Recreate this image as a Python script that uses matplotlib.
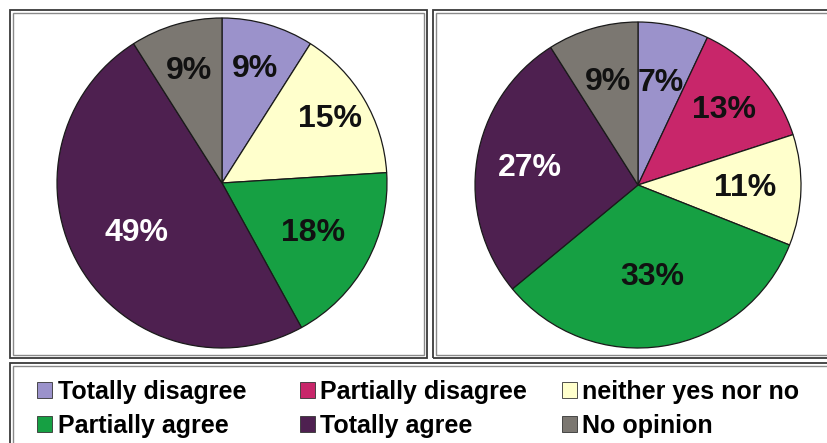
import matplotlib.pyplot as plt
from matplotlib.patches import Patch, Rectangle

plt.rcParams['font.family'] = ['Liberation Sans', 'DejaVu Sans']

categories = ['Totally disagree', 'Partially disagree', 'neither yes nor no',
              'Partially agree', 'Totally agree', 'No opinion']
colors = ['#9B92CB', '#C8266A', '#FFFFCC', '#16A043', '#4E2050', '#7B7771']
left_values = [9, 0, 15, 18, 49, 9]
right_values = [7, 13, 11, 33, 27, 9]

# how far out each percent label sits (fraction of radius)
left_label_r = [0.72, 0.7, 0.76, 0.63, 0.60, 0.71]
right_label_r = [0.64, 0.70, 0.66, 0.57, 0.67, 0.66]

W, H = 827, 443
fig = plt.figure(figsize=(W / 100, H / 100), dpi=100)


def box(x0, y0, x1, y1):
    # pixel coords (top-left origin) -> figure fraction, double line border
    for off, col, lw in [(0, '#3a3a3a', 1.3), (3, '#8a8a8a', 1.0)]:
        fig.patches.append(Rectangle(((x0 + off) / W, 1 - (y1 - off) / H),
                                     (x1 - x0 - 2 * off) / W, (y1 - y0 - 2 * off) / H,
                                     transform=fig.transFigure, fill=False,
                                     edgecolor=col, lw=lw))


box(10, 10, 427, 358)
box(433, 10, 840, 358)
box(10, 363, 840, 460)


def draw_pie(values, label_r, cx, cy, r):
    ax = fig.add_axes([(cx - r) / W, 1 - (cy + r) / H, 2 * r / W, 2 * r / H])
    keep = [i for i, v in enumerate(values) if v > 0]
    vals = [values[i] for i in keep]
    cols = [colors[i] for i in keep]
    wedges, texts, autotexts = ax.pie(
        vals, colors=cols, startangle=90, counterclock=False,
        autopct=lambda p: f'{p:.0f}%', pctdistance=1.0,
        wedgeprops=dict(edgecolor='#1a1a1a', linewidth=0.9),
        textprops=dict(fontsize=23, fontweight='bold', color='#111111'))
    for i, t in zip(keep, autotexts):
        x, y = t.get_position()
        t.set_position((x * label_r[i], y * label_r[i]))
        if categories[i] == 'Totally agree':
            t.set_color('white')
    ax.set_xlim(-1, 1)
    ax.set_ylim(-1, 1)
    ax.set_aspect('equal')
    ax.axis('off')


draw_pie(left_values, left_label_r, 222, 183, 165)
draw_pie(right_values, right_label_r, 638, 185, 163)

# legend laid out in three columns, two rows
col_x = [37, 300, 562]
for c, x in enumerate(col_x):
    idx = [c, c + 3]
    handles = [Patch(facecolor=colors[i], edgecolor='#333333', lw=0.6) for i in idx]
    fig.legend(handles, [categories[i] for i in idx], loc='upper left',
               bbox_to_anchor=(x / W, 1 - 380 / H), frameon=False,
               borderpad=0, borderaxespad=0, handlelength=0.6, handleheight=0.6,
               handletextpad=0.22, labelspacing=0.38,
               prop=dict(size=18, weight='bold'))

fig.savefig('out.png', dpi=100)
